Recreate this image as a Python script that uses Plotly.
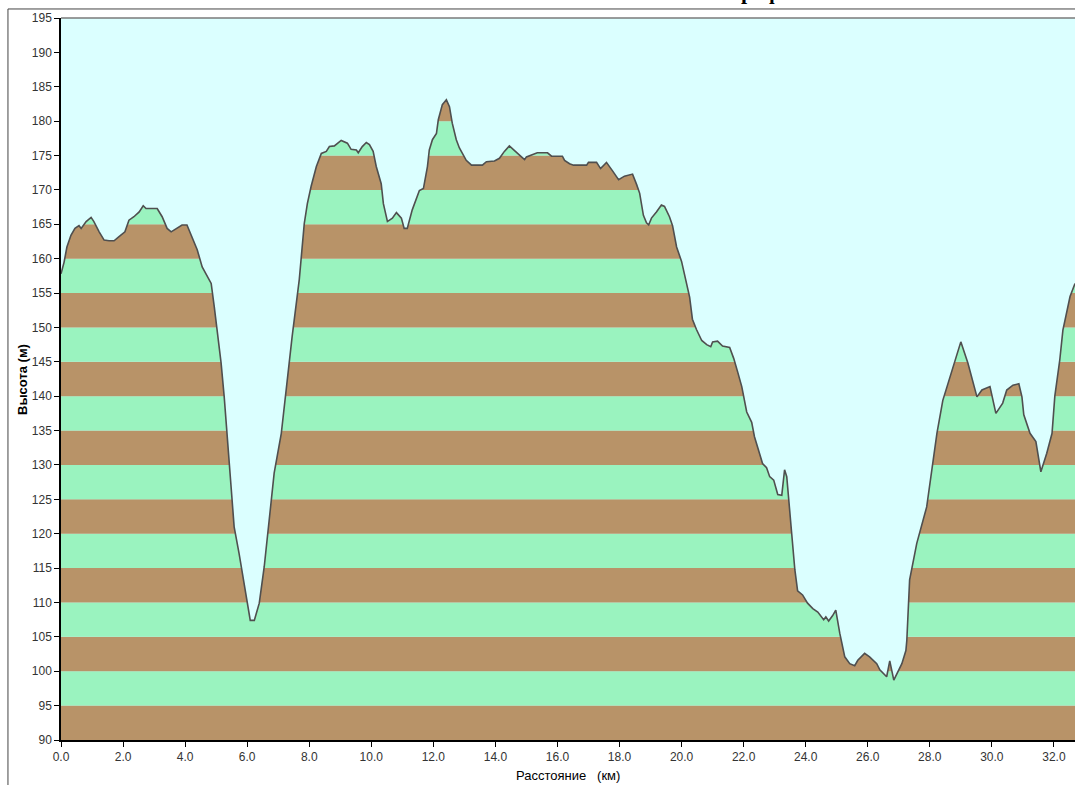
import plotly.graph_objects as go

# ---- data (distance in km, elevation in m) ----
dist_km = [
    0.00, 0.05, 0.10, 0.19, 0.32, 0.45, 0.58, 0.65, 0.81, 0.97, 1.06, 1.23, 1.39, 1.55, 1.71, 1.87,
    2.06, 2.19, 2.35, 2.52, 2.65, 2.74, 3.10, 3.26, 3.42, 3.55, 3.71, 3.90, 4.06, 4.23, 4.39, 4.55,
    4.71, 4.84, 4.94, 5.03, 5.16, 5.26, 5.35, 5.48, 5.58, 5.74, 5.97, 6.10, 6.23, 6.39, 6.55, 6.77,
    6.87, 7.10, 7.29, 7.45, 7.68, 7.77, 7.84, 7.94, 8.06, 8.23, 8.39, 8.55, 8.65, 8.81, 9.03, 9.23,
    9.35, 9.52, 9.58, 9.71, 9.84, 9.94, 10.06, 10.16, 10.32, 10.39, 10.52, 10.68, 10.81, 10.97, 11.06, 11.16,
    11.32, 11.55, 11.68, 11.81, 11.87, 11.97, 12.10, 12.16, 12.29, 12.42, 12.52, 12.61, 12.74, 12.84, 12.94, 13.06,
    13.23, 13.58, 13.71, 13.97, 14.13, 14.29, 14.45, 14.61, 14.71, 14.84, 14.94, 15.00, 15.35, 15.68, 15.81, 16.16,
    16.23, 16.39, 16.52, 16.94, 17.00, 17.26, 17.39, 17.58, 17.77, 17.97, 18.16, 18.42, 18.55, 18.65, 18.77, 18.87,
    18.94, 19.03, 19.19, 19.35, 19.45, 19.61, 19.71, 19.84, 20.00, 20.10, 20.26, 20.35, 20.48, 20.65, 20.81, 20.94,
    21.00, 21.16, 21.32, 21.55, 21.68, 21.81, 21.94, 22.10, 22.26, 22.35, 22.45, 22.61, 22.74, 22.84, 22.97, 23.10,
    23.23, 23.27, 23.32, 23.39, 23.45, 23.55, 23.65, 23.74, 23.90, 24.06, 24.23, 24.39, 24.58, 24.65, 24.74, 24.87,
    24.97, 25.10, 25.26, 25.42, 25.58, 25.68, 25.90, 26.06, 26.29, 26.39, 26.61, 26.71, 26.84, 27.10, 27.23, 27.26,
    27.35, 27.58, 27.90, 28.10, 28.23, 28.42, 28.71, 28.87, 29.00, 29.23, 29.52, 29.68, 29.94, 30.13, 30.35, 30.48,
    30.68, 30.87, 30.97, 31.03, 31.23, 31.42, 31.58, 31.77, 31.94, 32.03, 32.19, 32.29, 32.52, 32.68,
]
elev_m = [
    157.8, 158.5, 159.5, 161.7, 163.4, 164.4, 164.8, 164.4, 165.4, 166.0, 165.4, 163.9, 162.7, 162.6, 162.6, 163.2,
    163.9, 165.6, 166.1, 166.8, 167.7, 167.3, 167.3, 166.1, 164.4, 163.9, 164.4, 164.9, 164.9, 163.0, 161.3, 158.8,
    157.5, 156.4, 153.0, 149.6, 144.8, 139.9, 134.6, 127.8, 121.0, 117.1, 110.8, 107.4, 107.4, 109.9, 115.2, 124.9,
    128.8, 134.6, 142.4, 148.7, 157.0, 162.0, 165.1, 168.0, 170.5, 173.4, 175.3, 175.6, 176.3, 176.4, 177.2, 176.8,
    175.9, 175.8, 175.4, 176.3, 176.9, 176.6, 175.6, 173.4, 170.9, 168.0, 165.4, 165.9, 166.7, 165.9, 164.4, 164.4,
    167.1, 169.9, 170.2, 173.4, 175.8, 177.3, 178.2, 180.2, 182.4, 183.1, 182.1, 179.7, 177.3, 176.1, 175.3, 174.3,
    173.6, 173.6, 174.1, 174.2, 174.6, 175.6, 176.4, 175.8, 175.4, 174.8, 174.4, 174.8, 175.4, 175.4, 174.9, 174.9,
    174.3, 173.8, 173.6, 173.6, 174.0, 174.0, 173.1, 174.0, 172.8, 171.5, 172.0, 172.3, 170.8, 169.5, 166.3, 165.2,
    164.9, 165.9, 166.8, 167.8, 167.6, 166.1, 164.8, 161.7, 159.6, 157.5, 154.4, 151.2, 149.7, 148.1, 147.5, 147.2,
    147.9, 148.0, 147.3, 147.1, 145.5, 143.5, 141.4, 137.7, 136.2, 134.1, 132.5, 130.2, 129.6, 128.3, 127.8, 125.7,
    125.6, 127.3, 129.3, 128.3, 124.7, 120.0, 114.8, 111.7, 111.1, 109.9, 109.1, 108.6, 107.5, 107.9, 107.3, 108.1,
    108.9, 105.5, 102.1, 101.1, 100.8, 101.6, 102.6, 102.1, 101.1, 100.2, 99.2, 101.5, 98.7, 101.1, 103.0, 104.5,
    113.3, 118.6, 123.9, 130.2, 134.6, 139.4, 143.6, 145.7, 147.9, 144.8, 139.9, 140.9, 141.4, 137.5, 139.0, 140.9,
    141.6, 141.8, 139.9, 137.3, 134.6, 133.4, 129.0, 131.7, 134.6, 140.0, 145.3, 149.6, 154.5, 156.4,
]

Y_MIN, Y_MAX, BAND = 90, 195, 5
X_MAX = 32.68
BROWN = "#B89368"
GREEN = "#9AF3BF"
SKY = "#DBFFFF"
LINE = "#4F4F4F"

fig = go.Figure()

# sky: fill from profile up to top of the plot
fig.add_trace(go.Scatter(x=dist_km, y=elev_m, mode="lines", line=dict(width=0),
                         showlegend=False, hoverinfo="skip"))
fig.add_trace(go.Scatter(x=dist_km, y=[Y_MAX] * len(dist_km), mode="lines", line=dict(width=0),
                         fill="tonexty", fillcolor=SKY, showlegend=False, hoverinfo="skip"))
# profile outline
fig.add_trace(go.Scatter(x=dist_km, y=elev_m, mode="lines",
                         line=dict(color=LINE, width=1.6), showlegend=False))

shapes = []
for i, lo in enumerate(range(Y_MIN, Y_MAX, BAND)):
    shapes.append(dict(type="rect", xref="paper", yref="y", x0=0, x1=1, y0=lo, y1=lo + BAND,
                       fillcolor=BROWN if i % 2 == 0 else GREEN, line=dict(width=0), layer="below"))
# top border of plot
shapes.append(dict(type="line", xref="paper", yref="paper", x0=0, x1=1, y0=1, y1=1,
                   line=dict(color="#7A7A7A", width=1.5)))
# outer frame (left and top)
shapes.append(dict(type="line", xref="paper", yref="paper", x0=-0.0523, x1=1.02, y0=1.0125, y1=1.0125,
                   line=dict(color="#444444", width=1)))
shapes.append(dict(type="line", xref="paper", yref="paper", x0=-0.0523, x1=-0.0523, y0=-0.2, y1=1.0125,
                   line=dict(color="#444444", width=1)))

annotations = [
    dict(text="<b>Высота (м)</b>", xref="paper", yref="paper", x=-0.0385, y=0.5, textangle=-90,
         showarrow=False, font=dict(family="Arial", size=13, color="black"), xanchor="center",
         yanchor="middle"),
    dict(text="Расстояние   (км)", xref="paper", yref="paper", x=0.5, y=-0.036,
         showarrow=False, font=dict(family="Arial", size=13, color="black"), xanchor="center",
         yanchor="top"),
    dict(text="<b>Профиль</b>", xref="paper", yref="paper", x=0.70, y=1.0166,
         showarrow=False, font=dict(family="Liberation Serif", size=22, color="black"),
         xanchor="center", yanchor="bottom"),
]

fig.update_layout(
    width=1075, height=785,
    margin=dict(l=61, r=0, t=18, b=45),
    paper_bgcolor="white", plot_bgcolor=SKY,
    shapes=shapes, annotations=annotations,
    font=dict(family="Arial", size=12, color="#222222"),
    xaxis=dict(range=[0, X_MAX], tick0=0, dtick=2, tickformat=".1f", ticks="outside", ticklen=5,
               tickcolor="black", showline=True, linecolor="black", linewidth=1.5,
               showgrid=False, zeroline=False, tickfont=dict(size=12, color="#333333")),
    yaxis=dict(range=[Y_MIN, Y_MAX], tick0=90, dtick=5, ticks="outside", ticklen=5,
               tickcolor="black", showline=True, linecolor="black", linewidth=1.5,
               showgrid=False, zeroline=False, tickfont=dict(size=12, color="#333333")),
)

fig.write_html(
    "out.html",
    config={"displayModeBar": False},
    post_script="document.body.style.margin='0';document.body.style.overflow='hidden';",
)
